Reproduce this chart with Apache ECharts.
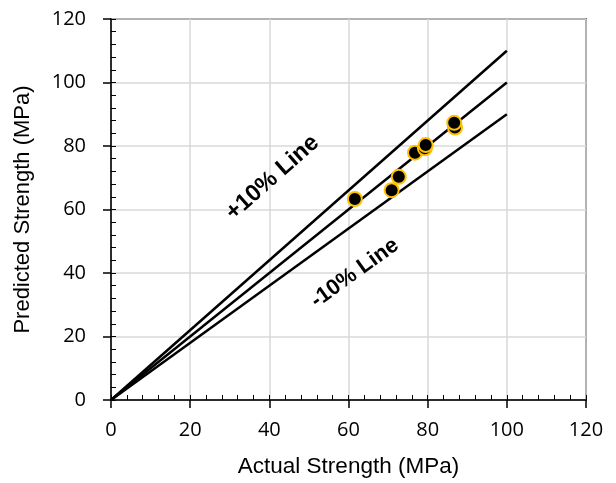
<!DOCTYPE html>
<html>
<head>
<meta charset="utf-8">
<script src="https://cdn.jsdelivr.net/npm/echarts@6/dist/echarts.min.js"></script>
<style>
  html, body { margin: 0; padding: 0; background: #fff; }
  #chart { width: 616px; height: 483px; }
</style>
</head>
<body>
<div id="chart"></div>
<script>
// measured points (actual, predicted)
const actual    = [61.6, 70.9, 72.7, 76.8, 79.3, 79.5, 86.9, 86.7];
const predicted = [63.3, 66.1, 70.3, 77.9, 79.3, 80.3, 85.8, 87.3];

// reference lines
const lineX = [0, 100];
const upperFactor = 1.1;
const equalFactor = 1.0;
const lowerFactor = 0.9;

const labelPlus  = { text: '+10% Line', x: 40.8, y: 70.0 };
const labelMinus = { text: '-10% Line', x: 61.6, y: 40.0 };

const chart = echarts.init(document.getElementById('chart'));

const refLine = f => ({
  type: 'line',
  data: lineX.map(x => [x, x * f]),
  symbol: 'none',
  lineStyle: { color: '#000', width: 2.5 },
  z: 2,
  silent: true
});

const annot = (lab, rot, size) => ({
  type: 'scatter',
  symbolSize: 0,
  data: [[lab.x, lab.y]],
  silent: true,
  itemStyle: { opacity: 1 },
  label: {
    show: true,
    formatter: lab.text,
    position: 'inside',
    rotate: rot,
    fontFamily: 'Liberation Sans',
    fontWeight: 'bold',
    fontSize: size,
    color: '#000'
  }
});

const tickFont = { fontFamily: 'Open Sans', fontSize: 20, color: '#000' };

chart.setOption({
  animation: false,
  grid: { left: 111, right: 30, top: 19, bottom: 83, show: true, borderColor: '#000', borderWidth: 1.5 },
  xAxis: [{
    type: 'value', min: 0, max: 120, interval: 20,
    name: 'Actual Strength (MPa)', nameLocation: 'middle', nameGap: 55,
    nameTextStyle: { fontFamily: 'Liberation Sans', fontSize: 22.5, color: '#000' },
    axisLine: { show: true, lineStyle: { color: '#000', width: 1.5 } },
    axisTick: { show: true, length: 8, lineStyle: { color: '#000', width: 1.5 } },
    axisLabel: Object.assign({ margin: 20 }, tickFont),
    splitLine: { show: true, lineStyle: { color: '#d9d9d9', width: 1.5 } }
  }, {
    type: 'value', min: 0, max: 120, interval: 4, position: 'bottom',
    axisLine: { show: false },
    axisTick: { show: true, inside: true, length: 5, lineStyle: { color: '#000', width: 1 } },
    axisLabel: { show: false },
    splitLine: { show: false }
  }],
  yAxis: [{
    type: 'value', min: 0, max: 120, interval: 20,
    name: 'Predicted Strength (MPa)', nameLocation: 'middle', nameGap: 77,
    nameTextStyle: { fontFamily: 'Liberation Sans', fontSize: 22, color: '#000' },
    axisLine: { show: true, lineStyle: { color: '#000', width: 1.5 } },
    axisTick: { show: true, length: 8, lineStyle: { color: '#000', width: 1.5 } },
    axisLabel: Object.assign({ margin: 25 }, tickFont),
    splitLine: { show: true, lineStyle: { color: '#d9d9d9', width: 1.5 } }
  }, {
    type: 'value', min: 0, max: 120, interval: 4, position: 'left',
    axisLine: { show: false },
    axisTick: { show: true, inside: true, length: 5, lineStyle: { color: '#000', width: 1 } },
    axisLabel: { show: false },
    splitLine: { show: false }
  }],
  series: [
    refLine(upperFactor),
    refLine(equalFactor),
    refLine(lowerFactor),
    {
      type: 'scatter',
      data: actual.map((a, i) => [a, predicted[i]]),
      symbol: 'circle',
      symbolSize: 14,
      itemStyle: { color: '#000', borderColor: '#FFC000', borderWidth: 2, opacity: 1 },
      z: 5
    },
    annot(labelPlus, 41.4, 23.5),
    annot(labelMinus, 35.8, 22)
  ]
});
</script>
</body>
</html>
